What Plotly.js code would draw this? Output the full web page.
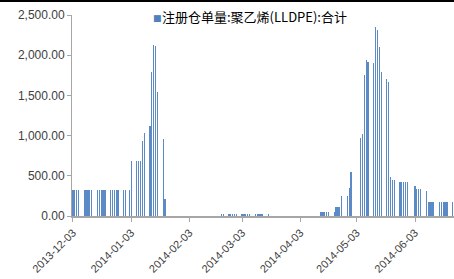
<!DOCTYPE html>
<html>
<head>
<meta charset="utf-8">
<script src="https://cdn.plot.ly/plotly-3.0.1.min.js"></script>
<style>
  html, body { margin: 0; padding: 0; background: #fff; }
  #chart { width: 454px; height: 279px; }
</style>
</head>
<body>
<div id="chart"></div>
<script>
// ---- data ----
const seriesName = '注册仓单量:聚乙烯(LLDPE):合计';

const dates = [
  '2013-12-03','2013-12-04','2013-12-05','2013-12-06',
  '2013-12-09','2013-12-10','2013-12-11','2013-12-12','2013-12-13',
  '2013-12-16','2013-12-17','2013-12-18','2013-12-19','2013-12-20',
  '2013-12-23','2013-12-24','2013-12-25','2013-12-26','2013-12-27',
  '2013-12-30','2013-12-31',
  '2014-01-02','2014-01-03',
  '2014-01-06','2014-01-07','2014-01-08','2014-01-09','2014-01-10',
  '2014-01-13','2014-01-14','2014-01-15','2014-01-16','2014-01-17',
  '2014-01-20','2014-01-21','2014-01-22','2014-01-23','2014-01-24',
  '2014-01-27','2014-01-28','2014-01-29','2014-01-30',
  '2014-02-07',
  '2014-02-10','2014-02-11','2014-02-12','2014-02-13','2014-02-14',
  '2014-02-17','2014-02-18','2014-02-19','2014-02-20','2014-02-21',
  '2014-02-24','2014-02-25','2014-02-26','2014-02-27','2014-02-28',
  '2014-03-03','2014-03-04','2014-03-05','2014-03-06','2014-03-07',
  '2014-03-10','2014-03-11','2014-03-12','2014-03-13','2014-03-14',
  '2014-03-17','2014-03-18','2014-03-19','2014-03-20','2014-03-21',
  '2014-03-24','2014-03-25','2014-03-26','2014-03-27','2014-03-28',
  '2014-03-31',
  '2014-04-01','2014-04-02','2014-04-03','2014-04-04',
  '2014-04-08','2014-04-09','2014-04-10','2014-04-11',
  '2014-04-14','2014-04-15','2014-04-16','2014-04-17','2014-04-18',
  '2014-04-21','2014-04-22','2014-04-23','2014-04-24','2014-04-25',
  '2014-04-28','2014-04-29','2014-04-30',
  '2014-05-05','2014-05-06','2014-05-07','2014-05-08','2014-05-09',
  '2014-05-12','2014-05-13','2014-05-14','2014-05-15','2014-05-16',
  '2014-05-19','2014-05-20','2014-05-21','2014-05-22','2014-05-23',
  '2014-05-26','2014-05-27','2014-05-28','2014-05-29','2014-05-30',
  '2014-06-03','2014-06-04','2014-06-05','2014-06-06',
  '2014-06-09','2014-06-10','2014-06-11','2014-06-12','2014-06-13',
  '2014-06-16','2014-06-17','2014-06-18','2014-06-19','2014-06-20',
  '2014-06-23'
];

const values = [
  320,320,320,320,
  320,320,320,320,320,
  320,320,320,320,320,
  320,320,320,320,320,
  320,320,
  320,680,
  680,680,680,930,1030,
  1120,1795,2125,2110,1545,
  958,210,0,0,0,
  0,0,0,0,
  0,
  0,0,0,0,0,
  0,0,0,20,20,
  20,20,20,20,20,
  20,20,20,20,20,
  20,20,20,20,20,
  20,0,0,0,0,
  0,0,0,0,0,
  0,
  0,0,0,0,
  0,0,0,0,
  50,50,50,50,50,
  50,108,108,108,250,
  250,348,545,
  975,1020,1755,1940,1915,
  1905,2355,2313,2098,1795,
  1700,1667,489,448,448,
  423,423,423,423,423,
  373,336,336,336,
  311,180,180,180,180,
  174,174,174,174,174,
  174
];

const tickDates = ['2013-12-03','2014-01-03','2014-02-03','2014-03-03','2014-04-03','2014-05-03','2014-06-03'];
const tickLabels = ['2013-12-03','2014-01-03','2014-02-03','2014-03-03','2014-04-03','2014-05-03','2014-06-03'];
const yTicks = [0, 500, 1000, 1500, 2000, 2500];

// ---- chart ----
const DAY = 86400000;
const barColor = '#5B8AC6';
const axisColor = '#A6A6A6';
const yFont = { family: 'Liberation Sans, Arial, sans-serif', size: 12, color: '#404040' };
const xFont = { family: 'Liberation Sans, Arial, sans-serif', size: 11, color: '#404040' };

const trace = {
  type: 'bar',
  x: dates,
  y: values,
  name: seriesName,
  width: 0.65 * DAY,
  marker: { color: barColor, line: { width: 0 } },
  showlegend: false,
  hoverinfo: 'x+y'
};

const layout = {
  width: 454,
  height: 279,
  margin: { l: 72, r: 0, t: 15, b: 63, pad: 0 },
  paper_bgcolor: '#ffffff',
  plot_bgcolor: '#ffffff',
  bargap: 0,
  xaxis: {
    type: 'date',
    range: ['2013-12-02 12:00', '2014-06-23 18:00'],
    tickmode: 'array',
    tickvals: tickDates,
    ticktext: tickLabels,
    tickangle: -45,
    tickfont: xFont,
    showgrid: false,
    zeroline: false,
    showline: true,
    linecolor: axisColor,
    linewidth: 2,
    ticks: 'outside',
    ticklen: 4,
    tickcolor: axisColor,
    tickwidth: 1
  },
  yaxis: {
    range: [0, 2500],
    tickmode: 'array',
    tickvals: yTicks,
    tickformat: ',.2f',
    tickfont: yFont,
    showgrid: false,
    zeroline: false,
    showline: true,
    linecolor: axisColor,
    linewidth: 1,
    ticks: 'outside',
    ticklen: 4,
    tickcolor: axisColor
  },
  shapes: [
    { type: 'line', xref: 'paper', yref: 'paper', x0: -0.2, x1: 1.0,
      y0: 1 + 14 / 201, y1: 1 + 14 / 201, line: { color: '#000000', width: 2 } }
  ],
  annotations: [
    { xref: 'paper', yref: 'paper', x: (151 - 72) / 382, y: 1 + (15 - 17.5) / 201,
      xanchor: 'left', yanchor: 'middle', showarrow: false,
      text: '■', font: { family: 'DejaVu Sans', size: 9, color: '#4F81BD' } },
    { xref: 'paper', yref: 'paper', x: (160 - 72) / 382, y: 1 + (15 - 17) / 201,
      xanchor: 'left', yanchor: 'middle', showarrow: false,
      text: seriesName,
      font: { family: 'Noto Sans CJK SC, sans-serif', size: 13, color: '#000000' } }
  ]
};

Plotly.newPlot('chart', [trace], layout, { staticPlot: true, displayModeBar: false });
</script>
</body>
</html>
